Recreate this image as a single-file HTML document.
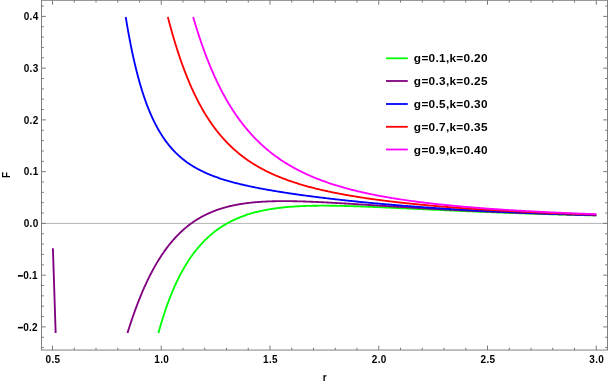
<!DOCTYPE html>
<html><head><meta charset="utf-8"><title>F vs r</title>
<style>
html,body{margin:0;padding:0;background:#fff;}
body{width:608px;height:384px;overflow:hidden;font-family:"Liberation Sans",sans-serif;}
svg{display:block;}
text{font-family:"Liberation Sans",sans-serif;font-weight:bold;fill:#000;}
</style></head><body>
<svg width="608" height="384" viewBox="0 0 608 384">
<rect x="0" y="0" width="608" height="384" fill="#fff"/>
<line x1="41.5" y1="223.4" x2="607.5" y2="223.4" stroke="#b3b3b3" stroke-width="1"/>
<path d="M158.44,333.00 L158.75,331.88 L158.97,331.10 L159.18,330.32 L159.40,329.54 L159.73,328.39 L160.05,327.25 L160.38,326.12 L160.71,325.01 L161.03,323.90 L161.36,322.81 L161.69,321.73 L162.01,320.66 L162.34,319.60 L162.66,318.55 L162.99,317.51 L163.32,316.48 L163.64,315.46 L163.97,314.46 L164.30,313.46 L164.62,312.47 L164.95,311.49 L165.27,310.52 L165.60,309.57 L165.93,308.62 L166.25,307.68 L166.58,306.75 L166.91,305.82 L167.23,304.91 L167.56,304.01 L167.88,303.11 L168.21,302.23 L168.54,301.35 L168.86,300.48 L169.19,299.62 L169.51,298.77 L169.84,297.92 L170.17,297.09 L170.49,296.26 L170.82,295.44 L171.15,294.63 L171.47,293.82 L171.80,293.03 L172.12,292.24 L172.45,291.45 L172.78,290.68 L173.10,289.91 L173.43,289.15 L173.76,288.40 L174.08,287.65 L174.41,286.91 L174.74,286.18 L175.17,285.22 L175.61,284.26 L176.04,283.32 L176.48,282.39 L176.91,281.47 L177.35,280.56 L177.78,279.66 L178.22,278.78 L178.65,277.90 L179.08,277.04 L179.52,276.18 L179.95,275.34 L180.39,274.50 L180.82,273.68 L181.26,272.87 L181.69,272.06 L182.13,271.27 L182.56,270.48 L183.00,269.70 L183.43,268.94 L183.87,268.18 L184.30,267.43 L184.74,266.69 L185.17,265.96 L185.61,265.23 L186.04,264.52 L186.48,263.81 L186.91,263.12 L187.35,262.43 L187.78,261.74 L188.22,261.07 L188.76,260.24 L189.31,259.42 L189.85,258.61 L190.39,257.81 L190.94,257.03 L191.48,256.26 L192.03,255.49 L192.57,254.74 L193.11,254.00 L193.66,253.27 L194.20,252.55 L194.74,251.84 L195.29,251.14 L195.83,250.45 L196.38,249.77 L196.92,249.10 L197.46,248.44 L198.01,247.79 L198.55,247.15 L199.09,246.51 L199.64,245.89 L200.18,245.27 L200.73,244.66 L201.27,244.07 L201.81,243.48 L202.47,242.78 L203.12,242.09 L203.77,241.42 L204.42,240.75 L205.08,240.10 L205.73,239.46 L206.38,238.83 L207.03,238.21 L207.69,237.60 L208.34,237.00 L208.99,236.41 L209.64,235.83 L210.30,235.26 L210.95,234.70 L211.60,234.15 L212.25,233.61 L212.91,233.07 L213.56,232.55 L214.21,232.03 L214.86,231.53 L215.52,231.03 L216.17,230.54 L216.82,230.06 L217.47,229.58 L218.13,229.12 L218.89,228.58 L219.65,228.06 L220.41,227.54 L221.17,227.04 L221.93,226.55 L222.69,226.06 L223.46,225.59 L224.22,225.12 L224.98,224.67 L225.74,224.22 L226.50,223.78 L227.26,223.35 L228.02,222.93 L228.78,222.52 L229.55,222.11 L230.31,221.71 L231.07,221.32 L231.83,220.94 L232.59,220.57 L233.35,220.20 L234.11,219.84 L234.87,219.49 L235.64,219.14 L236.40,218.81 L237.16,218.47 L237.92,218.15 L238.68,217.83 L239.44,217.52 L240.20,217.21 L240.96,216.92 L241.73,216.62 L242.49,216.34 L243.25,216.05 L244.01,215.78 L244.77,215.51 L245.53,215.25 L246.29,214.99 L247.05,214.73 L247.82,214.49 L248.69,214.21 L249.56,213.94 L250.43,213.67 L251.30,213.42 L252.17,213.17 L253.04,212.92 L253.91,212.68 L254.78,212.45 L255.64,212.22 L256.51,212.00 L257.38,211.78 L258.25,211.57 L259.12,211.37 L260.00,211.17 L260.87,210.97 L261.74,210.78 L262.61,210.60 L263.48,210.42 L264.35,210.25 L265.22,210.07 L266.09,209.91 L266.95,209.75 L267.82,209.59 L268.69,209.44 L269.56,209.29 L270.44,209.14 L271.31,209.00 L272.18,208.87 L273.05,208.74 L273.91,208.61 L274.78,208.48 L275.65,208.36 L276.52,208.24 L277.39,208.13 L278.26,208.02 L279.13,207.91 L280.00,207.81 L280.88,207.71 L281.75,207.61 L282.62,207.51 L283.48,207.42 L284.35,207.33 L285.22,207.25 L286.09,207.17 L286.96,207.09 L287.83,207.01 L288.70,206.94 L289.57,206.87 L290.44,206.80 L291.31,206.73 L292.18,206.67 L293.05,206.60 L293.92,206.55 L294.79,206.49 L295.66,206.44 L296.53,206.38 L297.40,206.33 L298.27,206.29 L299.14,206.24 L300.01,206.20 L300.88,206.16 L301.75,206.12 L302.62,206.08 L303.50,206.04 L304.37,206.01 L305.24,205.98 L306.11,205.95 L306.98,205.92 L307.85,205.89 L308.71,205.87 L309.58,205.85 L310.45,205.83 L311.32,205.81 L312.19,205.79 L313.06,205.77 L313.94,205.76 L314.81,205.74 L315.68,205.73 L316.55,205.72 L317.42,205.71 L318.28,205.70 L319.15,205.69 L320.02,205.69 L320.89,205.68 L321.76,205.68 L322.63,205.68 L323.50,205.68 L324.38,205.68 L325.25,205.68 L326.12,205.68 L326.99,205.69 L327.86,205.69 L328.73,205.70 L329.60,205.70 L330.47,205.71 L331.33,205.72 L332.20,205.73 L333.07,205.74 L333.94,205.75 L334.81,205.77 L335.69,205.78 L336.56,205.79 L337.43,205.81 L338.30,205.82 L339.17,205.84 L340.04,205.86 L340.91,205.88 L341.78,205.90 L342.65,205.92 L343.52,205.94 L344.38,205.96 L345.25,205.98 L346.12,206.00 L347.00,206.02 L347.87,206.05 L348.74,206.07 L349.61,206.10 L350.48,206.12 L351.35,206.15 L352.22,206.17 L353.09,206.20 L353.96,206.23 L354.83,206.26 L355.70,206.28 L356.57,206.31 L357.44,206.34 L358.31,206.37 L359.18,206.40 L360.05,206.43 L360.92,206.46 L361.79,206.50 L362.66,206.53 L363.53,206.56 L364.40,206.59 L365.27,206.63 L366.14,206.66 L367.01,206.69 L367.88,206.73 L368.75,206.76 L369.62,206.80 L370.49,206.83 L371.36,206.87 L372.23,206.90 L373.10,206.94 L373.97,206.97 L374.84,207.01 L375.71,207.05 L376.58,207.08 L377.45,207.12 L378.32,207.16 L379.19,207.20 L380.06,207.23 L380.92,207.27 L381.79,207.31 L382.66,207.35 L383.53,207.39 L384.40,207.43 L385.27,207.47 L386.14,207.50 L387.01,207.54 L387.88,207.58 L388.75,207.62 L389.62,207.66 L390.49,207.70 L391.36,207.74 L392.23,207.78 L393.10,207.82 L393.97,207.86 L394.84,207.90 L395.71,207.94 L396.58,207.98 L397.45,208.02 L398.32,208.06 L399.19,208.11 L400.06,208.15 L400.93,208.19 L401.80,208.23 L402.67,208.27 L403.54,208.31 L404.41,208.35 L405.28,208.39 L406.15,208.43 L407.02,208.47 L407.89,208.52 L408.76,208.56 L409.63,208.60 L410.50,208.64 L411.38,208.68 L412.25,208.72 L413.12,208.76 L413.98,208.80 L414.85,208.85 L415.72,208.89 L416.59,208.93 L417.46,208.97 L418.33,209.01 L419.20,209.05 L420.07,209.09 L420.94,209.13 L421.81,209.18 L422.69,209.22 L423.56,209.26 L424.43,209.30 L425.30,209.34 L426.17,209.38 L427.03,209.42 L427.90,209.46 L428.77,209.50 L429.64,209.55 L430.51,209.59 L431.38,209.63 L432.25,209.67 L433.12,209.71 L434.00,209.75 L434.87,209.79 L435.74,209.83 L436.61,209.87 L437.48,209.91 L438.35,209.95 L439.22,209.99 L440.08,210.03 L440.95,210.07 L441.82,210.11 L442.69,210.15 L443.56,210.19 L444.44,210.23 L445.31,210.27 L446.18,210.31 L447.05,210.35 L447.92,210.39 L448.79,210.43 L449.66,210.47 L450.53,210.51 L451.40,210.55 L452.27,210.58 L453.13,210.62 L454.00,210.66 L454.88,210.70 L455.75,210.74 L456.62,210.78 L457.49,210.82 L458.36,210.85 L459.23,210.89 L460.10,210.93 L460.97,210.97 L461.84,211.01 L462.71,211.04 L463.58,211.08 L464.45,211.12 L465.32,211.16 L466.19,211.20 L467.06,211.23 L467.93,211.27 L468.80,211.31 L469.67,211.34 L470.54,211.38 L471.41,211.42 L472.28,211.45 L473.15,211.49 L474.02,211.53 L474.89,211.56 L475.76,211.60 L476.63,211.63 L477.50,211.67 L478.37,211.71 L479.24,211.74 L480.11,211.78 L480.98,211.81 L481.85,211.85 L482.72,211.88 L483.59,211.92 L484.46,211.95 L485.33,211.99 L486.20,212.02 L487.07,212.06 L487.94,212.09 L488.81,212.13 L489.68,212.16 L490.55,212.20 L491.42,212.23 L492.28,212.26 L493.15,212.30 L494.02,212.33 L494.89,212.36 L495.76,212.40 L496.63,212.43 L497.50,212.46 L498.37,212.50 L499.24,212.53 L500.11,212.56 L500.98,212.60 L501.85,212.63 L502.72,212.66 L503.59,212.69 L504.46,212.73 L505.33,212.76 L506.20,212.79 L507.07,212.82 L507.94,212.85 L508.81,212.88 L509.69,212.92 L510.56,212.95 L511.43,212.98 L512.30,213.01 L513.17,213.04 L514.04,213.07 L514.91,213.10 L515.78,213.13 L516.65,213.16 L517.52,213.19 L518.38,213.22 L519.26,213.25 L520.12,213.28 L521.00,213.31 L521.87,213.34 L522.73,213.37 L523.61,213.40 L524.47,213.43 L525.35,213.46 L526.21,213.49 L527.09,213.52 L527.95,213.55 L528.83,213.58 L529.69,213.61 L530.57,213.64 L531.43,213.66 L532.31,213.69 L533.17,213.72 L534.05,213.75 L534.91,213.78 L535.78,213.80 L536.65,213.83 L537.52,213.86 L538.39,213.89 L539.26,213.91 L540.13,213.94 L541.00,213.97 L541.88,214.00 L542.75,214.02 L543.62,214.05 L544.49,214.08 L545.36,214.10 L546.23,214.13 L547.10,214.16 L547.97,214.18 L548.84,214.21 L549.70,214.23 L550.58,214.26 L551.44,214.29 L552.32,214.31 L553.18,214.34 L554.06,214.36 L554.92,214.39 L555.80,214.41 L556.66,214.44 L557.54,214.46 L558.40,214.49 L559.28,214.51 L560.14,214.54 L561.02,214.56 L561.88,214.59 L562.75,214.61 L563.62,214.64 L564.50,214.66 L565.37,214.68 L566.24,214.71 L567.11,214.73 L567.98,214.76 L568.85,214.78 L569.72,214.80 L570.59,214.83 L571.46,214.85 L572.33,214.87 L573.20,214.90 L574.07,214.92 L574.94,214.94 L575.81,214.97 L576.68,214.99 L577.55,215.01 L578.42,215.03 L579.29,215.06 L580.16,215.08 L581.03,215.10 L581.89,215.12 L582.76,215.14 L583.63,215.17 L584.50,215.19 L585.38,215.21 L586.25,215.23 L587.12,215.25 L587.99,215.27 L588.86,215.30 L589.73,215.32 L590.60,215.34 L591.47,215.36 L592.34,215.38 L593.21,215.40 L594.08,215.42 L594.95,215.44 L595.82,215.46 L596.25,215.47" fill="none" stroke="#00ff00" stroke-width="1.85" stroke-linejoin="round" stroke-linecap="butt"/>
<path d="M127.50,333.00 L127.75,332.18 L128.08,331.14 L128.41,330.10 L128.73,329.07 L129.06,328.05 L129.39,327.04 L129.71,326.03 L130.04,325.03 L130.37,324.03 L130.69,323.04 L131.02,322.06 L131.34,321.09 L131.67,320.12 L132.00,319.16 L132.32,318.20 L132.65,317.26 L132.97,316.31 L133.30,315.38 L133.63,314.45 L133.95,313.53 L134.28,312.61 L134.61,311.70 L134.93,310.80 L135.26,309.90 L135.59,309.01 L135.91,308.13 L136.24,307.25 L136.56,306.38 L136.89,305.52 L137.22,304.66 L137.54,303.80 L137.87,302.95 L138.19,302.11 L138.52,301.28 L138.85,300.45 L139.17,299.62 L139.50,298.81 L139.83,298.00 L140.15,297.19 L140.48,296.39 L140.80,295.59 L141.13,294.81 L141.46,294.02 L141.78,293.24 L142.11,292.47 L142.44,291.71 L142.76,290.94 L143.09,290.19 L143.41,289.44 L143.74,288.69 L144.07,287.96 L144.39,287.22 L144.83,286.25 L145.26,285.29 L145.70,284.34 L146.13,283.40 L146.57,282.46 L147.00,281.54 L147.44,280.63 L147.87,279.72 L148.31,278.82 L148.74,277.93 L149.18,277.05 L149.61,276.18 L150.05,275.32 L150.48,274.47 L150.92,273.62 L151.35,272.78 L151.79,271.96 L152.22,271.13 L152.66,270.32 L153.09,269.52 L153.53,268.72 L153.96,267.93 L154.40,267.15 L154.83,266.38 L155.27,265.61 L155.70,264.86 L156.14,264.11 L156.57,263.37 L157.01,262.63 L157.44,261.90 L157.88,261.18 L158.31,260.47 L158.75,259.77 L159.18,259.07 L159.62,258.38 L160.05,257.69 L160.49,257.01 L161.03,256.18 L161.58,255.35 L162.12,254.54 L162.66,253.73 L163.21,252.94 L163.75,252.15 L164.30,251.38 L164.84,250.61 L165.38,249.86 L165.93,249.11 L166.47,248.38 L167.01,247.65 L167.56,246.93 L168.10,246.23 L168.65,245.53 L169.19,244.84 L169.73,244.16 L170.28,243.49 L170.82,242.83 L171.36,242.17 L171.91,241.53 L172.45,240.89 L173.00,240.26 L173.54,239.64 L174.08,239.03 L174.63,238.43 L175.17,237.83 L175.71,237.25 L176.37,236.55 L177.02,235.87 L177.67,235.19 L178.32,234.53 L178.98,233.88 L179.63,233.24 L180.28,232.61 L180.93,231.99 L181.59,231.38 L182.24,230.78 L182.89,230.19 L183.54,229.61 L184.20,229.04 L184.85,228.48 L185.50,227.92 L186.15,227.38 L186.81,226.85 L187.46,226.32 L188.11,225.80 L188.76,225.30 L189.42,224.80 L190.07,224.30 L190.72,223.82 L191.37,223.35 L192.03,222.88 L192.79,222.34 L193.55,221.82 L194.31,221.30 L195.07,220.80 L195.83,220.31 L196.59,219.82 L197.35,219.35 L198.12,218.88 L198.88,218.43 L199.64,217.98 L200.40,217.55 L201.16,217.12 L201.92,216.70 L202.68,216.29 L203.44,215.88 L204.21,215.49 L204.97,215.10 L205.73,214.73 L206.49,214.36 L207.25,213.99 L208.01,213.64 L208.77,213.29 L209.53,212.95 L210.30,212.62 L211.06,212.30 L211.82,211.98 L212.58,211.67 L213.34,211.36 L214.10,211.06 L214.86,210.77 L215.62,210.49 L216.39,210.21 L217.15,209.94 L217.91,209.67 L218.67,209.41 L219.43,209.15 L220.19,208.90 L221.06,208.63 L221.93,208.36 L222.80,208.09 L223.67,207.84 L224.54,207.59 L225.41,207.35 L226.28,207.11 L227.15,206.88 L228.02,206.66 L228.89,206.44 L229.76,206.23 L230.63,206.02 L231.50,205.83 L232.37,205.63 L233.24,205.44 L234.11,205.26 L234.98,205.09 L235.85,204.91 L236.72,204.75 L237.59,204.59 L238.46,204.43 L239.33,204.28 L240.20,204.13 L241.07,203.99 L241.94,203.85 L242.81,203.72 L243.68,203.59 L244.55,203.46 L245.42,203.34 L246.29,203.23 L247.16,203.11 L248.03,203.01 L248.90,202.90 L249.77,202.80 L250.64,202.70 L251.51,202.61 L252.38,202.52 L253.25,202.43 L254.12,202.35 L254.99,202.27 L255.86,202.20 L256.73,202.12 L257.60,202.05 L258.47,201.99 L259.34,201.92 L260.21,201.86 L261.08,201.80 L261.95,201.75 L262.82,201.70 L263.69,201.65 L264.56,201.60 L265.43,201.56 L266.30,201.51 L267.17,201.47 L268.04,201.44 L268.91,201.40 L269.78,201.37 L270.65,201.34 L271.52,201.31 L272.39,201.29 L273.26,201.26 L274.13,201.24 L275.00,201.22 L275.87,201.20 L276.74,201.19 L277.61,201.18 L278.48,201.16 L279.35,201.15 L280.22,201.15 L281.09,201.14 L281.96,201.13 L282.83,201.13 L283.70,201.13 L284.57,201.13 L285.44,201.13 L286.31,201.14 L287.18,201.14 L288.05,201.15 L288.92,201.15 L289.79,201.16 L290.66,201.17 L291.53,201.19 L292.40,201.20 L293.27,201.21 L294.14,201.23 L295.01,201.25 L295.88,201.26 L296.75,201.28 L297.62,201.30 L298.49,201.32 L299.36,201.35 L300.23,201.37 L301.10,201.39 L301.97,201.42 L302.84,201.45 L303.71,201.47 L304.58,201.50 L305.45,201.53 L306.32,201.56 L307.19,201.59 L308.06,201.62 L308.93,201.66 L309.80,201.69 L310.67,201.72 L311.54,201.76 L312.41,201.79 L313.28,201.83 L314.15,201.87 L315.02,201.90 L315.89,201.94 L316.76,201.98 L317.63,202.02 L318.50,202.06 L319.37,202.10 L320.24,202.14 L321.11,202.18 L321.98,202.23 L322.85,202.27 L323.72,202.31 L324.59,202.36 L325.46,202.40 L326.33,202.45 L327.20,202.49 L328.07,202.54 L328.94,202.58 L329.81,202.63 L330.68,202.68 L331.55,202.72 L332.42,202.77 L333.29,202.82 L334.16,202.87 L335.03,202.92 L335.90,202.96 L336.77,203.01 L337.64,203.06 L338.51,203.11 L339.38,203.16 L340.25,203.21 L341.12,203.26 L341.99,203.32 L342.86,203.37 L343.73,203.42 L344.60,203.47 L345.47,203.52 L346.34,203.57 L347.21,203.63 L348.08,203.68 L348.95,203.73 L349.82,203.78 L350.69,203.84 L351.56,203.89 L352.43,203.94 L353.30,204.00 L354.17,204.05 L355.04,204.10 L355.91,204.16 L356.78,204.21 L357.65,204.27 L358.52,204.32 L359.39,204.37 L360.26,204.43 L361.13,204.48 L362.00,204.54 L362.87,204.59 L363.74,204.65 L364.61,204.70 L365.48,204.75 L366.35,204.81 L367.22,204.86 L368.09,204.92 L368.96,204.97 L369.83,205.03 L370.70,205.08 L371.57,205.14 L372.44,205.19 L373.31,205.25 L374.18,205.30 L375.05,205.36 L375.92,205.41 L376.79,205.47 L377.66,205.52 L378.53,205.58 L379.40,205.63 L380.27,205.69 L381.14,205.74 L382.01,205.79 L382.88,205.85 L383.75,205.90 L384.62,205.96 L385.49,206.01 L386.36,206.07 L387.23,206.12 L388.10,206.18 L388.97,206.23 L389.84,206.28 L390.71,206.34 L391.58,206.39 L392.45,206.45 L393.32,206.50 L394.19,206.55 L395.06,206.61 L395.93,206.66 L396.80,206.71 L397.67,206.77 L398.54,206.82 L399.41,206.87 L400.28,206.93 L401.15,206.98 L402.02,207.03 L402.89,207.09 L403.76,207.14 L404.63,207.19 L405.50,207.24 L406.37,207.30 L407.24,207.35 L408.11,207.40 L408.98,207.45 L409.85,207.50 L410.72,207.56 L411.59,207.61 L412.46,207.66 L413.33,207.71 L414.20,207.76 L415.07,207.81 L415.94,207.86 L416.81,207.91 L417.68,207.97 L418.55,208.02 L419.42,208.07 L420.29,208.12 L421.16,208.17 L422.03,208.22 L422.90,208.27 L423.77,208.32 L424.64,208.37 L425.51,208.42 L426.38,208.47 L427.25,208.52 L428.12,208.56 L428.99,208.61 L429.86,208.66 L430.73,208.71 L431.60,208.76 L432.47,208.81 L433.34,208.86 L434.21,208.90 L435.08,208.95 L435.95,209.00 L436.82,209.05 L437.69,209.09 L438.56,209.14 L439.43,209.19 L440.30,209.24 L441.17,209.28 L442.04,209.33 L442.91,209.38 L443.78,209.42 L444.65,209.47 L445.52,209.52 L446.39,209.56 L447.26,209.61 L448.13,209.65 L449.00,209.70 L449.87,209.74 L450.74,209.79 L451.61,209.83 L452.48,209.88 L453.35,209.92 L454.22,209.97 L455.09,210.01 L455.96,210.06 L456.83,210.10 L457.70,210.14 L458.57,210.19 L459.44,210.23 L460.31,210.28 L461.18,210.32 L462.05,210.36 L462.92,210.41 L463.79,210.45 L464.66,210.49 L465.53,210.53 L466.40,210.58 L467.27,210.62 L468.14,210.66 L469.01,210.70 L469.88,210.74 L470.75,210.79 L471.62,210.83 L472.49,210.87 L473.36,210.91 L474.23,210.95 L475.10,210.99 L475.97,211.03 L476.84,211.07 L477.71,211.11 L478.58,211.15 L479.45,211.19 L480.32,211.23 L481.19,211.27 L482.06,211.31 L482.93,211.35 L483.80,211.39 L484.67,211.43 L485.54,211.47 L486.41,211.51 L487.28,211.55 L488.15,211.58 L489.02,211.62 L489.89,211.66 L490.76,211.70 L491.63,211.74 L492.50,211.77 L493.37,211.81 L494.24,211.85 L495.11,211.89 L495.98,211.92 L496.85,211.96 L497.72,212.00 L498.59,212.03 L499.46,212.07 L500.33,212.11 L501.20,212.14 L502.07,212.18 L502.94,212.22 L503.81,212.25 L504.68,212.29 L505.55,212.32 L506.42,212.36 L507.29,212.39 L508.16,212.43 L509.03,212.46 L509.90,212.50 L510.77,212.53 L511.64,212.57 L512.51,212.60 L513.38,212.64 L514.25,212.67 L515.12,212.70 L515.99,212.74 L516.86,212.77 L517.73,212.80 L518.60,212.84 L519.47,212.87 L520.34,212.90 L521.21,212.94 L522.08,212.97 L522.95,213.00 L523.82,213.04 L524.69,213.07 L525.56,213.10 L526.43,213.13 L527.30,213.16 L528.17,213.20 L529.04,213.23 L529.91,213.26 L530.78,213.29 L531.65,213.32 L532.52,213.35 L533.39,213.38 L534.26,213.42 L535.13,213.45 L536.00,213.48 L536.87,213.51 L537.74,213.54 L538.61,213.57 L539.48,213.60 L540.35,213.63 L541.22,213.66 L542.09,213.69 L542.96,213.72 L543.83,213.75 L544.70,213.78 L545.57,213.81 L546.44,213.84 L547.31,213.86 L548.18,213.89 L549.05,213.92 L549.92,213.95 L550.79,213.98 L551.66,214.01 L552.53,214.04 L553.40,214.06 L554.27,214.09 L555.14,214.12 L556.01,214.15 L556.88,214.18 L557.75,214.20 L558.62,214.23 L559.49,214.26 L560.36,214.28 L561.23,214.31 L562.10,214.34 L562.97,214.37 L563.84,214.39 L564.71,214.42 L565.58,214.45 L566.45,214.47 L567.32,214.50 L568.19,214.52 L569.06,214.55 L569.93,214.58 L570.80,214.60 L571.67,214.63 L572.54,214.65 L573.41,214.68 L574.28,214.70 L575.15,214.73 L576.02,214.75 L576.89,214.78 L577.76,214.80 L578.63,214.83 L579.50,214.85 L580.37,214.88 L581.24,214.90 L582.11,214.93 L582.98,214.95 L583.85,214.98 L584.72,215.00 L585.59,215.02 L586.46,215.05 L587.33,215.07 L588.20,215.10 L589.07,215.12 L589.94,215.14 L590.81,215.17 L591.68,215.19 L592.55,215.21 L593.42,215.24 L594.29,215.26 L595.16,215.28 L596.03,215.30 L596.25,215.31" fill="none" stroke="#800080" stroke-width="1.85" stroke-linejoin="round" stroke-linecap="butt"/>
<path d="M125.74,17.00 L125.91,18.03 L126.12,19.37 L126.34,20.69 L126.56,22.00 L126.78,23.30 L126.99,24.59 L127.21,25.86 L127.43,27.13 L127.65,28.38 L127.86,29.62 L128.08,30.85 L128.30,32.06 L128.52,33.27 L128.73,34.47 L128.95,35.65 L129.17,36.82 L129.39,37.99 L129.60,39.14 L129.82,40.28 L130.04,41.41 L130.26,42.53 L130.47,43.64 L130.69,44.74 L130.91,45.84 L131.13,46.92 L131.34,47.99 L131.56,49.05 L131.78,50.10 L132.00,51.14 L132.21,52.18 L132.43,53.20 L132.65,54.22 L132.87,55.22 L133.08,56.22 L133.30,57.21 L133.52,58.19 L133.74,59.16 L133.95,60.12 L134.17,61.08 L134.39,62.02 L134.61,62.96 L134.82,63.89 L135.04,64.81 L135.26,65.72 L135.48,66.63 L135.69,67.52 L135.91,68.41 L136.13,69.29 L136.35,70.17 L136.56,71.03 L136.78,71.89 L137.00,72.74 L137.22,73.59 L137.43,74.42 L137.65,75.25 L137.87,76.07 L138.09,76.89 L138.30,77.70 L138.52,78.50 L138.74,79.29 L138.96,80.08 L139.17,80.86 L139.39,81.63 L139.72,82.78 L140.04,83.92 L140.37,85.03 L140.70,86.14 L141.02,87.23 L141.35,88.31 L141.67,89.37 L142.00,90.42 L142.33,91.46 L142.65,92.49 L142.98,93.50 L143.31,94.50 L143.63,95.48 L143.96,96.46 L144.28,97.42 L144.61,98.37 L144.94,99.31 L145.26,100.24 L145.59,101.15 L145.92,102.06 L146.24,102.95 L146.57,103.83 L146.89,104.71 L147.22,105.57 L147.55,106.42 L147.87,107.26 L148.20,108.09 L148.53,108.91 L148.85,109.72 L149.18,110.52 L149.50,111.31 L149.83,112.10 L150.16,112.87 L150.48,113.63 L150.81,114.39 L151.14,115.13 L151.46,115.87 L151.90,116.84 L152.33,117.79 L152.77,118.73 L153.20,119.65 L153.64,120.56 L154.07,121.46 L154.51,122.34 L154.94,123.21 L155.38,124.06 L155.81,124.90 L156.25,125.73 L156.68,126.55 L157.12,127.35 L157.55,128.15 L157.99,128.93 L158.42,129.69 L158.86,130.45 L159.29,131.20 L159.73,131.93 L160.16,132.65 L160.60,133.37 L161.03,134.07 L161.47,134.76 L161.90,135.44 L162.34,136.11 L162.88,136.94 L163.43,137.75 L163.97,138.54 L164.51,139.33 L165.06,140.09 L165.60,140.85 L166.14,141.59 L166.69,142.32 L167.23,143.03 L167.78,143.73 L168.32,144.42 L168.86,145.10 L169.41,145.77 L169.95,146.42 L170.49,147.06 L171.04,147.70 L171.58,148.32 L172.12,148.93 L172.67,149.53 L173.21,150.12 L173.87,150.81 L174.52,151.50 L175.17,152.16 L175.82,152.82 L176.48,153.46 L177.13,154.09 L177.78,154.70 L178.43,155.31 L179.08,155.90 L179.74,156.48 L180.39,157.05 L181.04,157.61 L181.69,158.16 L182.35,158.70 L183.00,159.23 L183.65,159.75 L184.30,160.26 L184.96,160.76 L185.61,161.25 L186.26,161.73 L186.91,162.21 L187.57,162.67 L188.33,163.20 L189.09,163.72 L189.85,164.23 L190.61,164.73 L191.37,165.22 L192.13,165.70 L192.90,166.17 L193.66,166.64 L194.42,167.09 L195.18,167.53 L195.94,167.97 L196.70,168.39 L197.46,168.81 L198.22,169.22 L198.99,169.63 L199.75,170.02 L200.51,170.41 L201.27,170.79 L202.03,171.17 L202.79,171.54 L203.55,171.90 L204.31,172.25 L205.08,172.60 L205.84,172.95 L206.60,173.28 L207.36,173.62 L208.12,173.94 L208.88,174.26 L209.64,174.58 L210.41,174.89 L211.17,175.19 L211.93,175.49 L212.69,175.79 L213.45,176.08 L214.21,176.37 L214.97,176.65 L215.73,176.93 L216.50,177.20 L217.26,177.47 L218.02,177.74 L218.78,178.00 L219.54,178.26 L220.30,178.51 L221.06,178.77 L221.82,179.01 L222.69,179.29 L223.56,179.57 L224.43,179.84 L225.30,180.10 L226.17,180.37 L227.04,180.62 L227.91,180.88 L228.78,181.13 L229.65,181.38 L230.52,181.62 L231.39,181.86 L232.26,182.10 L233.13,182.33 L234.00,182.57 L234.87,182.79 L235.74,183.02 L236.61,183.24 L237.48,183.46 L238.35,183.68 L239.22,183.89 L240.09,184.10 L240.96,184.31 L241.83,184.52 L242.70,184.72 L243.57,184.93 L244.44,185.12 L245.31,185.32 L246.18,185.52 L247.05,185.71 L247.92,185.90 L248.79,186.09 L249.66,186.28 L250.53,186.46 L251.40,186.65 L252.27,186.83 L253.14,187.01 L254.01,187.19 L254.88,187.36 L255.75,187.54 L256.62,187.71 L257.49,187.88 L258.36,188.05 L259.23,188.22 L260.10,188.39 L260.97,188.55 L261.84,188.71 L262.71,188.88 L263.58,189.04 L264.45,189.20 L265.32,189.36 L266.19,189.51 L267.06,189.67 L267.93,189.82 L268.80,189.98 L269.67,190.13 L270.54,190.28 L271.41,190.43 L272.28,190.58 L273.15,190.73 L274.02,190.87 L274.89,191.02 L275.76,191.16 L276.63,191.31 L277.50,191.45 L278.37,191.59 L279.24,191.73 L280.11,191.87 L280.98,192.01 L281.85,192.15 L282.72,192.28 L283.59,192.42 L284.46,192.56 L285.33,192.69 L286.20,192.82 L287.07,192.96 L287.94,193.09 L288.81,193.22 L289.68,193.35 L290.55,193.48 L291.42,193.61 L292.29,193.73 L293.16,193.86 L294.03,193.99 L294.90,194.11 L295.77,194.24 L296.64,194.36 L297.51,194.48 L298.38,194.61 L299.25,194.73 L300.12,194.85 L300.99,194.97 L301.86,195.09 L302.73,195.21 L303.60,195.33 L304.47,195.45 L305.34,195.56 L306.21,195.68 L307.08,195.80 L307.95,195.91 L308.82,196.03 L309.69,196.14 L310.56,196.25 L311.43,196.37 L312.30,196.48 L313.17,196.59 L314.04,196.70 L314.91,196.81 L315.78,196.92 L316.65,197.03 L317.52,197.14 L318.39,197.25 L319.26,197.36 L320.13,197.47 L321.00,197.57 L321.87,197.68 L322.74,197.79 L323.61,197.89 L324.48,198.00 L325.35,198.10 L326.22,198.20 L327.09,198.31 L327.96,198.41 L328.83,198.51 L329.70,198.61 L330.57,198.72 L331.44,198.82 L332.31,198.92 L333.18,199.02 L334.05,199.12 L334.92,199.21 L335.79,199.31 L336.66,199.41 L337.53,199.51 L338.40,199.61 L339.27,199.70 L340.14,199.80 L341.01,199.89 L341.88,199.99 L342.75,200.08 L343.62,200.18 L344.49,200.27 L345.36,200.37 L346.23,200.46 L347.10,200.55 L347.97,200.64 L348.84,200.74 L349.71,200.83 L350.58,200.92 L351.45,201.01 L352.32,201.10 L353.19,201.19 L354.06,201.28 L354.93,201.37 L355.80,201.46 L356.67,201.54 L357.54,201.63 L358.41,201.72 L359.28,201.80 L360.15,201.89 L361.02,201.98 L361.89,202.06 L362.76,202.15 L363.63,202.23 L364.50,202.32 L365.37,202.40 L366.24,202.49 L367.11,202.57 L367.98,202.65 L368.85,202.73 L369.72,202.82 L370.59,202.90 L371.46,202.98 L372.33,203.06 L373.20,203.14 L374.07,203.22 L374.94,203.30 L375.81,203.38 L376.68,203.46 L377.55,203.54 L378.42,203.62 L379.29,203.70 L380.16,203.77 L381.03,203.85 L381.90,203.93 L382.77,204.00 L383.64,204.08 L384.51,204.16 L385.38,204.23 L386.25,204.31 L387.12,204.38 L387.99,204.46 L388.86,204.53 L389.73,204.61 L390.60,204.68 L391.47,204.75 L392.34,204.82 L393.21,204.90 L394.08,204.97 L394.95,205.04 L395.82,205.11 L396.69,205.18 L397.56,205.26 L398.43,205.33 L399.30,205.40 L400.17,205.47 L401.04,205.54 L401.91,205.60 L402.78,205.67 L403.65,205.74 L404.52,205.81 L405.39,205.88 L406.26,205.95 L407.13,206.01 L408.00,206.08 L408.87,206.15 L409.74,206.21 L410.61,206.28 L411.48,206.35 L412.35,206.41 L413.22,206.48 L414.09,206.54 L414.96,206.61 L415.83,206.67 L416.70,206.73 L417.57,206.80 L418.44,206.86 L419.31,206.92 L420.18,206.99 L421.05,207.05 L421.92,207.11 L422.79,207.17 L423.66,207.23 L424.53,207.30 L425.40,207.36 L426.27,207.42 L427.14,207.48 L428.01,207.54 L428.88,207.60 L429.75,207.66 L430.62,207.72 L431.49,207.78 L432.36,207.83 L433.23,207.89 L434.10,207.95 L434.97,208.01 L435.84,208.07 L436.71,208.12 L437.58,208.18 L438.45,208.24 L439.32,208.29 L440.19,208.35 L441.06,208.41 L441.93,208.46 L442.80,208.52 L443.67,208.57 L444.54,208.63 L445.41,208.68 L446.28,208.74 L447.15,208.79 L448.02,208.84 L448.89,208.90 L449.76,208.95 L450.63,209.00 L451.50,209.06 L452.37,209.11 L453.24,209.16 L454.11,209.21 L454.98,209.27 L455.85,209.32 L456.72,209.37 L457.59,209.42 L458.46,209.47 L459.33,209.52 L460.20,209.57 L461.07,209.62 L461.94,209.67 L462.81,209.72 L463.68,209.77 L464.55,209.82 L465.42,209.87 L466.29,209.92 L467.16,209.97 L468.03,210.01 L468.90,210.06 L469.77,210.11 L470.64,210.16 L471.51,210.20 L472.38,210.25 L473.25,210.30 L474.12,210.34 L474.99,210.39 L475.86,210.44 L476.73,210.48 L477.60,210.53 L478.47,210.57 L479.34,210.62 L480.21,210.66 L481.08,210.71 L481.95,210.75 L482.82,210.80 L483.69,210.84 L484.56,210.89 L485.43,210.93 L486.30,210.97 L487.17,211.02 L488.04,211.06 L488.91,211.10 L489.78,211.14 L490.65,211.19 L491.52,211.23 L492.39,211.27 L493.26,211.31 L494.13,211.35 L495.00,211.40 L495.87,211.44 L496.74,211.48 L497.61,211.52 L498.48,211.56 L499.35,211.60 L500.22,211.64 L501.09,211.68 L501.96,211.72 L502.83,211.76 L503.70,211.80 L504.57,211.84 L505.44,211.88 L506.31,211.91 L507.18,211.95 L508.05,211.99 L508.92,212.03 L509.79,212.07 L510.66,212.11 L511.53,212.14 L512.40,212.18 L513.27,212.22 L514.14,212.25 L515.01,212.29 L515.88,212.33 L516.75,212.36 L517.62,212.40 L518.49,212.44 L519.36,212.47 L520.23,212.51 L521.10,212.54 L521.97,212.58 L522.84,212.62 L523.71,212.65 L524.58,212.69 L525.45,212.72 L526.32,212.75 L527.19,212.79 L528.06,212.82 L528.93,212.86 L529.80,212.89 L530.67,212.92 L531.54,212.96 L532.41,212.99 L533.28,213.02 L534.15,213.06 L535.02,213.09 L535.89,213.12 L536.76,213.16 L537.63,213.19 L538.50,213.22 L539.37,213.25 L540.24,213.28 L541.11,213.32 L541.98,213.35 L542.85,213.38 L543.72,213.41 L544.59,213.44 L545.46,213.47 L546.33,213.50 L547.20,213.53 L548.07,213.56 L548.94,213.59 L549.81,213.62 L550.68,213.65 L551.55,213.68 L552.42,213.71 L553.29,213.74 L554.16,213.77 L555.03,213.80 L555.90,213.83 L556.77,213.86 L557.64,213.89 L558.51,213.92 L559.38,213.95 L560.25,213.97 L561.12,214.00 L561.99,214.03 L562.86,214.06 L563.73,214.09 L564.60,214.11 L565.47,214.14 L566.34,214.17 L567.21,214.20 L568.08,214.22 L568.95,214.25 L569.82,214.28 L570.69,214.30 L571.56,214.33 L572.43,214.36 L573.30,214.38 L574.17,214.41 L575.04,214.44 L575.91,214.46 L576.78,214.49 L577.65,214.51 L578.52,214.54 L579.39,214.56 L580.26,214.59 L581.13,214.61 L582.00,214.64 L582.87,214.66 L583.74,214.69 L584.61,214.71 L585.48,214.74 L586.35,214.76 L587.22,214.79 L588.09,214.81 L588.96,214.83 L589.83,214.86 L590.70,214.88 L591.57,214.90 L592.44,214.93 L593.31,214.95 L594.18,214.97 L595.05,215.00 L595.92,215.02 L596.25,215.03" fill="none" stroke="#0000ff" stroke-width="1.85" stroke-linejoin="round" stroke-linecap="butt"/>
<path d="M167.83,17.00 L168.10,18.04 L168.32,18.87 L168.54,19.71 L168.75,20.53 L168.97,21.36 L169.19,22.18 L169.41,22.99 L169.62,23.80 L169.84,24.61 L170.06,25.41 L170.28,26.21 L170.49,27.01 L170.71,27.80 L170.93,28.59 L171.15,29.37 L171.36,30.15 L171.58,30.92 L171.80,31.69 L172.12,32.84 L172.45,33.98 L172.78,35.12 L173.10,36.24 L173.43,37.35 L173.76,38.46 L174.08,39.56 L174.41,40.65 L174.74,41.73 L175.06,42.80 L175.39,43.87 L175.71,44.93 L176.04,45.98 L176.37,47.02 L176.69,48.05 L177.02,49.08 L177.35,50.09 L177.67,51.10 L178.00,52.11 L178.32,53.10 L178.65,54.09 L178.98,55.07 L179.30,56.04 L179.63,57.01 L179.95,57.96 L180.28,58.91 L180.61,59.86 L180.93,60.79 L181.26,61.72 L181.59,62.64 L181.91,63.56 L182.24,64.47 L182.56,65.37 L182.89,66.26 L183.22,67.15 L183.54,68.03 L183.87,68.91 L184.20,69.77 L184.52,70.64 L184.85,71.49 L185.17,72.34 L185.50,73.18 L185.83,74.02 L186.15,74.85 L186.48,75.67 L186.81,76.49 L187.13,77.30 L187.46,78.10 L187.78,78.90 L188.11,79.69 L188.44,80.48 L188.76,81.26 L189.09,82.03 L189.42,82.80 L189.74,83.57 L190.07,84.33 L190.39,85.08 L190.72,85.82 L191.05,86.56 L191.37,87.30 L191.81,88.27 L192.24,89.23 L192.68,90.19 L193.11,91.13 L193.55,92.07 L193.98,92.99 L194.42,93.91 L194.85,94.81 L195.29,95.71 L195.72,96.60 L196.16,97.48 L196.59,98.35 L197.03,99.21 L197.46,100.07 L197.90,100.91 L198.33,101.75 L198.77,102.58 L199.20,103.40 L199.64,104.22 L200.07,105.02 L200.51,105.82 L200.94,106.61 L201.38,107.39 L201.81,108.17 L202.25,108.94 L202.68,109.70 L203.12,110.45 L203.55,111.19 L203.99,111.93 L204.42,112.66 L204.86,113.39 L205.29,114.11 L205.73,114.82 L206.16,115.52 L206.60,116.22 L207.03,116.91 L207.47,117.59 L207.90,118.27 L208.45,119.10 L208.99,119.93 L209.53,120.75 L210.08,121.56 L210.62,122.36 L211.17,123.15 L211.71,123.92 L212.25,124.70 L212.80,125.46 L213.34,126.21 L213.88,126.95 L214.43,127.69 L214.97,128.42 L215.52,129.14 L216.06,129.85 L216.60,130.55 L217.15,131.24 L217.69,131.93 L218.24,132.61 L218.78,133.28 L219.32,133.94 L219.87,134.59 L220.41,135.24 L220.95,135.88 L221.50,136.52 L222.04,137.14 L222.59,137.76 L223.13,138.37 L223.67,138.98 L224.22,139.58 L224.76,140.17 L225.41,140.87 L226.06,141.56 L226.72,142.25 L227.37,142.92 L228.02,143.58 L228.68,144.24 L229.33,144.89 L229.98,145.53 L230.63,146.16 L231.29,146.78 L231.94,147.40 L232.59,148.00 L233.24,148.60 L233.90,149.19 L234.55,149.78 L235.20,150.35 L235.85,150.92 L236.51,151.48 L237.16,152.04 L237.81,152.59 L238.46,153.13 L239.12,153.66 L239.77,154.19 L240.42,154.71 L241.07,155.22 L241.73,155.73 L242.38,156.23 L243.03,156.73 L243.68,157.22 L244.34,157.70 L244.99,158.18 L245.64,158.65 L246.29,159.12 L247.05,159.66 L247.82,160.19 L248.58,160.71 L249.34,161.22 L250.10,161.73 L250.86,162.23 L251.62,162.73 L252.38,163.21 L253.14,163.69 L253.91,164.17 L254.67,164.64 L255.43,165.10 L256.19,165.55 L256.95,166.00 L257.71,166.45 L258.47,166.88 L259.23,167.32 L260.00,167.74 L260.76,168.16 L261.52,168.58 L262.28,168.99 L263.04,169.39 L263.80,169.79 L264.56,170.19 L265.32,170.58 L266.09,170.96 L266.85,171.34 L267.61,171.72 L268.37,172.09 L269.13,172.45 L269.89,172.82 L270.65,173.17 L271.41,173.53 L272.18,173.87 L272.94,174.22 L273.70,174.56 L274.46,174.89 L275.22,175.23 L275.98,175.55 L276.74,175.88 L277.50,176.20 L278.26,176.52 L279.03,176.83 L279.79,177.14 L280.55,177.44 L281.31,177.75 L282.07,178.05 L282.83,178.34 L283.59,178.63 L284.35,178.92 L285.12,179.21 L285.88,179.49 L286.64,179.77 L287.40,180.05 L288.16,180.32 L288.92,180.59 L289.68,180.86 L290.44,181.12 L291.21,181.39 L291.97,181.64 L292.73,181.90 L293.49,182.15 L294.25,182.41 L295.01,182.65 L295.88,182.93 L296.75,183.21 L297.62,183.49 L298.49,183.76 L299.36,184.02 L300.23,184.29 L301.10,184.55 L301.97,184.81 L302.84,185.06 L303.71,185.32 L304.58,185.57 L305.45,185.81 L306.32,186.06 L307.19,186.30 L308.06,186.54 L308.93,186.78 L309.80,187.01 L310.67,187.24 L311.54,187.47 L312.41,187.70 L313.28,187.92 L314.15,188.14 L315.02,188.36 L315.89,188.58 L316.76,188.79 L317.63,189.01 L318.50,189.22 L319.37,189.42 L320.24,189.63 L321.11,189.84 L321.98,190.04 L322.85,190.24 L323.72,190.44 L324.59,190.63 L325.46,190.83 L326.33,191.02 L327.20,191.21 L328.07,191.40 L328.94,191.58 L329.81,191.77 L330.68,191.95 L331.55,192.13 L332.42,192.31 L333.29,192.49 L334.16,192.67 L335.03,192.84 L335.90,193.01 L336.77,193.19 L337.64,193.36 L338.51,193.52 L339.38,193.69 L340.25,193.86 L341.12,194.02 L341.99,194.18 L342.86,194.34 L343.73,194.50 L344.60,194.66 L345.47,194.82 L346.34,194.98 L347.21,195.13 L348.08,195.28 L348.95,195.43 L349.82,195.58 L350.69,195.73 L351.56,195.88 L352.43,196.03 L353.30,196.17 L354.17,196.32 L355.04,196.46 L355.91,196.60 L356.78,196.74 L357.65,196.88 L358.52,197.02 L359.39,197.16 L360.26,197.29 L361.13,197.43 L362.00,197.56 L362.87,197.69 L363.74,197.83 L364.61,197.96 L365.48,198.09 L366.35,198.22 L367.22,198.34 L368.09,198.47 L368.96,198.60 L369.83,198.72 L370.70,198.84 L371.57,198.97 L372.44,199.09 L373.31,199.21 L374.18,199.33 L375.05,199.45 L375.92,199.57 L376.79,199.69 L377.66,199.80 L378.53,199.92 L379.40,200.03 L380.27,200.15 L381.14,200.26 L382.01,200.37 L382.88,200.48 L383.75,200.59 L384.62,200.70 L385.49,200.81 L386.36,200.92 L387.23,201.03 L388.10,201.14 L388.97,201.24 L389.84,201.35 L390.71,201.45 L391.58,201.56 L392.45,201.66 L393.32,201.76 L394.19,201.86 L395.06,201.97 L395.93,202.07 L396.80,202.17 L397.67,202.27 L398.54,202.36 L399.41,202.46 L400.28,202.56 L401.15,202.65 L402.02,202.75 L402.89,202.85 L403.76,202.94 L404.63,203.03 L405.50,203.13 L406.37,203.22 L407.24,203.31 L408.11,203.40 L408.98,203.49 L409.85,203.58 L410.72,203.67 L411.59,203.76 L412.46,203.85 L413.33,203.94 L414.20,204.03 L415.07,204.11 L415.94,204.20 L416.81,204.29 L417.68,204.37 L418.55,204.46 L419.42,204.54 L420.29,204.62 L421.16,204.71 L422.03,204.79 L422.90,204.87 L423.77,204.95 L424.64,205.03 L425.51,205.11 L426.38,205.19 L427.25,205.27 L428.12,205.35 L428.99,205.43 L429.86,205.51 L430.73,205.59 L431.60,205.66 L432.47,205.74 L433.34,205.82 L434.21,205.89 L435.08,205.97 L435.95,206.04 L436.82,206.12 L437.69,206.19 L438.56,206.26 L439.43,206.34 L440.30,206.41 L441.17,206.48 L442.04,206.55 L442.91,206.62 L443.78,206.69 L444.65,206.76 L445.52,206.83 L446.39,206.90 L447.26,206.97 L448.13,207.04 L449.00,207.11 L449.87,207.18 L450.74,207.25 L451.61,207.31 L452.48,207.38 L453.35,207.45 L454.22,207.51 L455.09,207.58 L455.96,207.64 L456.83,207.71 L457.70,207.77 L458.57,207.84 L459.44,207.90 L460.31,207.96 L461.18,208.03 L462.05,208.09 L462.92,208.15 L463.79,208.21 L464.66,208.28 L465.53,208.34 L466.40,208.40 L467.27,208.46 L468.14,208.52 L469.01,208.58 L469.88,208.64 L470.75,208.70 L471.62,208.76 L472.49,208.81 L473.36,208.87 L474.23,208.93 L475.10,208.99 L475.97,209.04 L476.84,209.10 L477.71,209.16 L478.58,209.21 L479.45,209.27 L480.32,209.33 L481.19,209.38 L482.06,209.44 L482.93,209.49 L483.80,209.55 L484.67,209.60 L485.54,209.65 L486.41,209.71 L487.28,209.76 L488.15,209.81 L489.02,209.87 L489.89,209.92 L490.76,209.97 L491.63,210.02 L492.50,210.07 L493.37,210.12 L494.24,210.18 L495.11,210.23 L495.98,210.28 L496.85,210.33 L497.72,210.38 L498.59,210.43 L499.46,210.48 L500.33,210.52 L501.20,210.57 L502.07,210.62 L502.94,210.67 L503.81,210.72 L504.68,210.77 L505.55,210.81 L506.42,210.86 L507.29,210.91 L508.16,210.95 L509.03,211.00 L509.90,211.05 L510.77,211.09 L511.64,211.14 L512.51,211.18 L513.38,211.23 L514.25,211.27 L515.12,211.32 L515.99,211.36 L516.86,211.41 L517.73,211.45 L518.60,211.50 L519.47,211.54 L520.34,211.58 L521.21,211.63 L522.08,211.67 L522.95,211.71 L523.82,211.75 L524.69,211.80 L525.56,211.84 L526.43,211.88 L527.30,211.92 L528.17,211.96 L529.04,212.00 L529.91,212.04 L530.78,212.08 L531.65,212.12 L532.52,212.17 L533.39,212.21 L534.26,212.24 L535.13,212.28 L536.00,212.32 L536.87,212.36 L537.74,212.40 L538.61,212.44 L539.48,212.48 L540.35,212.52 L541.22,212.56 L542.09,212.59 L542.96,212.63 L543.83,212.67 L544.70,212.71 L545.57,212.74 L546.44,212.78 L547.31,212.82 L548.18,212.85 L549.05,212.89 L549.92,212.93 L550.79,212.96 L551.66,213.00 L552.53,213.03 L553.40,213.07 L554.27,213.11 L555.14,213.14 L556.01,213.18 L556.88,213.21 L557.75,213.24 L558.62,213.28 L559.49,213.31 L560.36,213.35 L561.23,213.38 L562.10,213.42 L562.97,213.45 L563.84,213.48 L564.71,213.52 L565.58,213.55 L566.45,213.58 L567.32,213.61 L568.19,213.65 L569.06,213.68 L569.93,213.71 L570.80,213.74 L571.67,213.77 L572.54,213.81 L573.41,213.84 L574.28,213.87 L575.15,213.90 L576.02,213.93 L576.89,213.96 L577.76,213.99 L578.63,214.02 L579.50,214.05 L580.37,214.08 L581.24,214.11 L582.11,214.14 L582.98,214.17 L583.85,214.20 L584.72,214.23 L585.59,214.26 L586.46,214.29 L587.33,214.32 L588.20,214.35 L589.07,214.38 L589.94,214.41 L590.81,214.44 L591.68,214.46 L592.55,214.49 L593.42,214.52 L594.29,214.55 L595.16,214.58 L596.03,214.60 L596.25,214.61" fill="none" stroke="#ff0000" stroke-width="1.85" stroke-linejoin="round" stroke-linecap="butt"/>
<path d="M193.18,17.00 L193.44,17.89 L193.77,19.01 L194.09,20.12 L194.42,21.22 L194.74,22.32 L195.07,23.40 L195.40,24.48 L195.72,25.55 L196.05,26.62 L196.38,27.67 L196.70,28.72 L197.03,29.77 L197.35,30.80 L197.68,31.83 L198.01,32.85 L198.33,33.86 L198.66,34.87 L198.99,35.86 L199.31,36.86 L199.64,37.84 L199.96,38.82 L200.29,39.79 L200.62,40.75 L200.94,41.71 L201.27,42.66 L201.60,43.61 L201.92,44.55 L202.25,45.48 L202.57,46.40 L202.90,47.32 L203.23,48.23 L203.55,49.14 L203.88,50.04 L204.21,50.94 L204.53,51.82 L204.86,52.71 L205.19,53.58 L205.51,54.45 L205.84,55.31 L206.16,56.17 L206.49,57.03 L206.82,57.87 L207.14,58.71 L207.47,59.55 L207.79,60.38 L208.12,61.20 L208.45,62.02 L208.77,62.83 L209.10,63.64 L209.43,64.44 L209.75,65.24 L210.08,66.03 L210.41,66.81 L210.73,67.60 L211.06,68.37 L211.38,69.14 L211.71,69.91 L212.04,70.67 L212.36,71.42 L212.69,72.17 L213.01,72.92 L213.34,73.66 L213.67,74.39 L214.10,75.36 L214.54,76.33 L214.97,77.28 L215.41,78.23 L215.84,79.17 L216.28,80.10 L216.71,81.02 L217.15,81.94 L217.58,82.84 L218.02,83.74 L218.45,84.63 L218.89,85.52 L219.32,86.39 L219.76,87.26 L220.19,88.12 L220.63,88.97 L221.06,89.82 L221.50,90.66 L221.93,91.49 L222.37,92.32 L222.80,93.13 L223.24,93.94 L223.67,94.75 L224.11,95.54 L224.54,96.33 L224.98,97.12 L225.41,97.89 L225.85,98.66 L226.28,99.43 L226.72,100.18 L227.15,100.93 L227.59,101.68 L228.02,102.42 L228.46,103.15 L228.89,103.88 L229.33,104.60 L229.76,105.31 L230.20,106.02 L230.63,106.72 L231.07,107.42 L231.50,108.11 L231.94,108.79 L232.37,109.47 L232.81,110.14 L233.35,110.98 L233.90,111.80 L234.44,112.62 L234.98,113.43 L235.53,114.23 L236.07,115.03 L236.61,115.81 L237.16,116.59 L237.70,117.36 L238.25,118.12 L238.79,118.87 L239.33,119.62 L239.88,120.36 L240.42,121.09 L240.96,121.81 L241.51,122.53 L242.05,123.24 L242.60,123.94 L243.14,124.64 L243.68,125.32 L244.23,126.01 L244.77,126.68 L245.31,127.35 L245.86,128.01 L246.40,128.67 L246.95,129.32 L247.49,129.96 L248.03,130.60 L248.58,131.23 L249.12,131.85 L249.66,132.47 L250.21,133.08 L250.75,133.69 L251.30,134.29 L251.84,134.89 L252.38,135.48 L253.04,136.18 L253.69,136.87 L254.34,137.55 L254.99,138.23 L255.64,138.90 L256.30,139.56 L256.95,140.22 L257.60,140.86 L258.25,141.50 L258.91,142.13 L259.56,142.76 L260.21,143.38 L260.87,143.99 L261.52,144.59 L262.17,145.19 L262.82,145.78 L263.48,146.37 L264.13,146.95 L264.78,147.52 L265.43,148.09 L266.09,148.65 L266.74,149.20 L267.39,149.75 L268.04,150.29 L268.69,150.83 L269.35,151.36 L270.00,151.88 L270.65,152.40 L271.31,152.92 L271.96,153.43 L272.61,153.93 L273.26,154.43 L273.91,154.92 L274.57,155.41 L275.22,155.89 L275.87,156.37 L276.52,156.84 L277.18,157.31 L277.94,157.85 L278.70,158.38 L279.46,158.91 L280.22,159.43 L280.98,159.94 L281.75,160.45 L282.51,160.95 L283.27,161.45 L284.03,161.94 L284.79,162.42 L285.55,162.90 L286.31,163.37 L287.07,163.84 L287.83,164.30 L288.60,164.76 L289.36,165.21 L290.12,165.66 L290.88,166.10 L291.64,166.54 L292.40,166.97 L293.16,167.40 L293.92,167.82 L294.69,168.23 L295.45,168.65 L296.21,169.06 L296.97,169.46 L297.73,169.86 L298.49,170.25 L299.25,170.64 L300.01,171.03 L300.78,171.41 L301.54,171.79 L302.30,172.16 L303.06,172.53 L303.82,172.89 L304.58,173.25 L305.34,173.61 L306.11,173.97 L306.87,174.32 L307.63,174.66 L308.39,175.00 L309.15,175.34 L309.91,175.68 L310.67,176.01 L311.43,176.34 L312.19,176.66 L312.96,176.98 L313.72,177.30 L314.48,177.61 L315.24,177.93 L316.00,178.23 L316.76,178.54 L317.52,178.84 L318.28,179.14 L319.05,179.44 L319.81,179.73 L320.57,180.02 L321.33,180.30 L322.09,180.59 L322.85,180.87 L323.61,181.15 L324.38,181.42 L325.14,181.70 L325.90,181.97 L326.66,182.23 L327.42,182.50 L328.18,182.76 L328.94,183.02 L329.70,183.28 L330.47,183.53 L331.23,183.78 L331.99,184.03 L332.75,184.28 L333.62,184.56 L334.49,184.84 L335.36,185.11 L336.23,185.38 L337.10,185.65 L337.97,185.91 L338.84,186.17 L339.71,186.43 L340.58,186.69 L341.45,186.94 L342.32,187.19 L343.19,187.44 L344.06,187.69 L344.93,187.93 L345.80,188.17 L346.67,188.41 L347.54,188.65 L348.41,188.88 L349.28,189.11 L350.15,189.34 L351.02,189.56 L351.89,189.79 L352.76,190.01 L353.63,190.23 L354.50,190.44 L355.37,190.66 L356.24,190.87 L357.11,191.08 L357.98,191.29 L358.85,191.50 L359.72,191.70 L360.59,191.90 L361.46,192.10 L362.33,192.30 L363.20,192.50 L364.07,192.69 L364.94,192.89 L365.81,193.08 L366.68,193.27 L367.55,193.45 L368.42,193.64 L369.29,193.82 L370.16,194.00 L371.03,194.18 L371.90,194.36 L372.77,194.54 L373.64,194.71 L374.51,194.89 L375.38,195.06 L376.25,195.23 L377.12,195.40 L377.99,195.56 L378.86,195.73 L379.73,195.89 L380.60,196.06 L381.47,196.22 L382.34,196.38 L383.21,196.53 L384.08,196.69 L384.95,196.85 L385.82,197.00 L386.69,197.15 L387.56,197.30 L388.43,197.45 L389.30,197.60 L390.17,197.75 L391.04,197.90 L391.91,198.04 L392.78,198.18 L393.65,198.33 L394.52,198.47 L395.39,198.61 L396.26,198.74 L397.13,198.88 L398.00,199.02 L398.87,199.15 L399.74,199.29 L400.61,199.42 L401.48,199.55 L402.35,199.68 L403.22,199.81 L404.09,199.94 L404.96,200.07 L405.83,200.19 L406.70,200.32 L407.57,200.44 L408.44,200.56 L409.31,200.69 L410.18,200.81 L411.05,200.93 L411.92,201.05 L412.79,201.16 L413.66,201.28 L414.53,201.40 L415.40,201.51 L416.27,201.63 L417.14,201.74 L418.01,201.85 L418.88,201.96 L419.75,202.07 L420.62,202.18 L421.49,202.29 L422.36,202.40 L423.23,202.51 L424.10,202.62 L424.97,202.72 L425.84,202.83 L426.71,202.93 L427.58,203.03 L428.45,203.14 L429.32,203.24 L430.19,203.34 L431.06,203.44 L431.93,203.54 L432.80,203.64 L433.67,203.73 L434.54,203.83 L435.41,203.93 L436.28,204.02 L437.15,204.12 L438.02,204.21 L438.89,204.30 L439.76,204.40 L440.63,204.49 L441.50,204.58 L442.37,204.67 L443.24,204.76 L444.11,204.85 L444.98,204.94 L445.85,205.03 L446.72,205.12 L447.59,205.20 L448.46,205.29 L449.33,205.37 L450.20,205.46 L451.07,205.54 L451.94,205.63 L452.81,205.71 L453.68,205.79 L454.55,205.87 L455.42,205.96 L456.29,206.04 L457.16,206.12 L458.03,206.20 L458.90,206.28 L459.77,206.35 L460.64,206.43 L461.51,206.51 L462.38,206.59 L463.25,206.66 L464.12,206.74 L464.99,206.82 L465.86,206.89 L466.73,206.96 L467.60,207.04 L468.47,207.11 L469.34,207.18 L470.21,207.26 L471.08,207.33 L471.95,207.40 L472.82,207.47 L473.69,207.54 L474.56,207.61 L475.43,207.68 L476.30,207.75 L477.17,207.82 L478.04,207.89 L478.91,207.96 L479.78,208.02 L480.65,208.09 L481.52,208.16 L482.39,208.22 L483.26,208.29 L484.13,208.35 L485.00,208.42 L485.87,208.48 L486.74,208.55 L487.61,208.61 L488.48,208.67 L489.35,208.73 L490.22,208.80 L491.09,208.86 L491.96,208.92 L492.83,208.98 L493.70,209.04 L494.57,209.10 L495.44,209.16 L496.31,209.22 L497.18,209.28 L498.05,209.34 L498.92,209.40 L499.79,209.46 L500.66,209.51 L501.53,209.57 L502.40,209.63 L503.27,209.69 L504.14,209.74 L505.01,209.80 L505.88,209.85 L506.75,209.91 L507.62,209.96 L508.49,210.02 L509.36,210.07 L510.23,210.13 L511.10,210.18 L511.97,210.23 L512.84,210.29 L513.71,210.34 L514.58,210.39 L515.45,210.44 L516.32,210.50 L517.19,210.55 L518.06,210.60 L518.93,210.65 L519.80,210.70 L520.67,210.75 L521.54,210.80 L522.41,210.85 L523.28,210.90 L524.15,210.95 L525.02,211.00 L525.89,211.05 L526.76,211.09 L527.63,211.14 L528.50,211.19 L529.37,211.24 L530.24,211.28 L531.11,211.33 L531.98,211.38 L532.85,211.42 L533.72,211.47 L534.59,211.52 L535.46,211.56 L536.33,211.61 L537.20,211.65 L538.07,211.70 L538.94,211.74 L539.81,211.79 L540.68,211.83 L541.55,211.87 L542.42,211.92 L543.29,211.96 L544.16,212.00 L545.03,212.05 L545.90,212.09 L546.77,212.13 L547.64,212.17 L548.51,212.22 L549.38,212.26 L550.25,212.30 L551.12,212.34 L551.99,212.38 L552.86,212.42 L553.73,212.46 L554.60,212.50 L555.47,212.54 L556.34,212.58 L557.21,212.62 L558.08,212.66 L558.95,212.70 L559.82,212.74 L560.69,212.78 L561.56,212.82 L562.43,212.86 L563.30,212.89 L564.17,212.93 L565.04,212.97 L565.91,213.01 L566.78,213.05 L567.65,213.08 L568.52,213.12 L569.39,213.16 L570.26,213.19 L571.13,213.23 L572.00,213.27 L572.87,213.30 L573.74,213.34 L574.61,213.37 L575.48,213.41 L576.35,213.44 L577.22,213.48 L578.09,213.51 L578.96,213.55 L579.83,213.58 L580.70,213.62 L581.57,213.65 L582.44,213.69 L583.31,213.72 L584.18,213.75 L585.05,213.79 L585.92,213.82 L586.79,213.85 L587.66,213.89 L588.53,213.92 L589.40,213.95 L590.27,213.99 L591.14,214.02 L592.01,214.05 L592.88,214.08 L593.75,214.11 L594.62,214.15 L595.49,214.18 L596.25,214.21" fill="none" stroke="#ff00ff" stroke-width="1.85" stroke-linejoin="round" stroke-linecap="butt"/>
<path d="M52.9,248.2 L54.2,288 L55.65,333.0" fill="none" stroke="#800080" stroke-width="1.85"/>
<rect x="41.5" y="0.3" width="566.0" height="349.75" fill="none" stroke="#808080" stroke-width="1"/>
<path d="M52.50,350.05 v-4.5 M52.50,0.3 v4.5 M74.25,350.05 v-2.3 M74.25,0.3 v2.3 M96.00,350.05 v-2.3 M96.00,0.3 v2.3 M117.75,350.05 v-2.3 M117.75,0.3 v2.3 M139.50,350.05 v-2.3 M139.50,0.3 v2.3 M161.25,350.05 v-4.5 M161.25,0.3 v4.5 M183.00,350.05 v-2.3 M183.00,0.3 v2.3 M204.75,350.05 v-2.3 M204.75,0.3 v2.3 M226.50,350.05 v-2.3 M226.50,0.3 v2.3 M248.25,350.05 v-2.3 M248.25,0.3 v2.3 M270.00,350.05 v-4.5 M270.00,0.3 v4.5 M291.75,350.05 v-2.3 M291.75,0.3 v2.3 M313.50,350.05 v-2.3 M313.50,0.3 v2.3 M335.25,350.05 v-2.3 M335.25,0.3 v2.3 M357.00,350.05 v-2.3 M357.00,0.3 v2.3 M378.75,350.05 v-4.5 M378.75,0.3 v4.5 M400.50,350.05 v-2.3 M400.50,0.3 v2.3 M422.25,350.05 v-2.3 M422.25,0.3 v2.3 M444.00,350.05 v-2.3 M444.00,0.3 v2.3 M465.75,350.05 v-2.3 M465.75,0.3 v2.3 M487.50,350.05 v-4.5 M487.50,0.3 v4.5 M509.25,350.05 v-2.3 M509.25,0.3 v2.3 M531.00,350.05 v-2.3 M531.00,0.3 v2.3 M552.75,350.05 v-2.3 M552.75,0.3 v2.3 M574.50,350.05 v-2.3 M574.50,0.3 v2.3 M596.25,350.05 v-4.5 M596.25,0.3 v4.5 M41.5,347.60 h2.3 M607.5,347.60 h-2.3 M41.5,337.25 h2.3 M607.5,337.25 h-2.3 M41.5,326.90 h4.3 M607.5,326.90 h-4.3 M41.5,316.55 h2.3 M607.5,316.55 h-2.3 M41.5,306.20 h2.3 M607.5,306.20 h-2.3 M41.5,295.85 h2.3 M607.5,295.85 h-2.3 M41.5,285.50 h2.3 M607.5,285.50 h-2.3 M41.5,275.15 h4.3 M607.5,275.15 h-4.3 M41.5,264.80 h2.3 M607.5,264.80 h-2.3 M41.5,254.45 h2.3 M607.5,254.45 h-2.3 M41.5,244.10 h2.3 M607.5,244.10 h-2.3 M41.5,233.75 h2.3 M607.5,233.75 h-2.3 M41.5,223.40 h4.3 M607.5,223.40 h-4.3 M41.5,213.05 h2.3 M607.5,213.05 h-2.3 M41.5,202.70 h2.3 M607.5,202.70 h-2.3 M41.5,192.35 h2.3 M607.5,192.35 h-2.3 M41.5,182.00 h2.3 M607.5,182.00 h-2.3 M41.5,171.65 h4.3 M607.5,171.65 h-4.3 M41.5,161.30 h2.3 M607.5,161.30 h-2.3 M41.5,150.95 h2.3 M607.5,150.95 h-2.3 M41.5,140.60 h2.3 M607.5,140.60 h-2.3 M41.5,130.25 h2.3 M607.5,130.25 h-2.3 M41.5,119.90 h4.3 M607.5,119.90 h-4.3 M41.5,109.55 h2.3 M607.5,109.55 h-2.3 M41.5,99.20 h2.3 M607.5,99.20 h-2.3 M41.5,88.85 h2.3 M607.5,88.85 h-2.3 M41.5,78.50 h2.3 M607.5,78.50 h-2.3 M41.5,68.15 h4.3 M607.5,68.15 h-4.3 M41.5,57.80 h2.3 M607.5,57.80 h-2.3 M41.5,47.45 h2.3 M607.5,47.45 h-2.3 M41.5,37.10 h2.3 M607.5,37.10 h-2.3 M41.5,26.75 h2.3 M607.5,26.75 h-2.3 M41.5,16.40 h4.3 M607.5,16.40 h-4.3 M41.5,6.05 h2.3 M607.5,6.05 h-2.3" fill="none" stroke="#787878" stroke-width="1"/>
<line x1="386" y1="149.5" x2="407.8" y2="149.5" stroke="#ff00ff" stroke-width="1.8"/>
<line x1="386" y1="126.8" x2="407.8" y2="126.8" stroke="#ff0000" stroke-width="1.8"/>
<line x1="386" y1="104.0" x2="407.8" y2="104.0" stroke="#0000ff" stroke-width="1.8"/>
<line x1="386" y1="81.0" x2="407.8" y2="81.0" stroke="#800080" stroke-width="1.8"/>
<line x1="386" y1="58.3" x2="407.8" y2="58.3" stroke="#00ff00" stroke-width="1.8"/>
<g style="filter:grayscale(1)">
<text x="52.95" y="363.4" font-size="10" letter-spacing="0.3" text-anchor="middle">0.5</text>
<text x="161.70" y="363.4" font-size="10" letter-spacing="0.3" text-anchor="middle">1.0</text>
<text x="270.45" y="363.4" font-size="10" letter-spacing="0.3" text-anchor="middle">1.5</text>
<text x="379.20" y="363.4" font-size="10" letter-spacing="0.3" text-anchor="middle">2.0</text>
<text x="487.95" y="363.4" font-size="10" letter-spacing="0.3" text-anchor="middle">2.5</text>
<text x="596.70" y="363.4" font-size="10" letter-spacing="0.3" text-anchor="middle">3.0</text>
<rect x="17.9" y="326.85" width="5.0" height="1.6" fill="#000"/>
<text x="37.95" y="330.50" font-size="10" letter-spacing="0.3" text-anchor="end">0.2</text>
<rect x="17.9" y="275.10" width="5.0" height="1.6" fill="#000"/>
<text x="37.95" y="278.75" font-size="10" letter-spacing="0.3" text-anchor="end">0.1</text>
<text x="38.5" y="227.00" font-size="10" letter-spacing="0.3" text-anchor="end">0.0</text>
<text x="38.5" y="175.25" font-size="10" letter-spacing="0.3" text-anchor="end">0.1</text>
<text x="38.5" y="123.50" font-size="10" letter-spacing="0.3" text-anchor="end">0.2</text>
<text x="38.5" y="71.75" font-size="10" letter-spacing="0.3" text-anchor="end">0.3</text>
<text x="38.5" y="20.00" font-size="10" letter-spacing="0.3" text-anchor="end">0.4</text>
<text x="324.8" y="380.7" font-size="10" text-anchor="middle">r</text>
<text transform="translate(9.7,175) rotate(-90)" font-size="10" text-anchor="middle">F</text>
<text x="413.85" y="62.30" font-size="11.8" textLength="73.6" lengthAdjust="spacing">g=0.1,k=0.20</text>
<text x="413.85" y="85.00" font-size="11.8" textLength="73.6" lengthAdjust="spacing">g=0.3,k=0.25</text>
<text x="413.85" y="108.00" font-size="11.8" textLength="73.6" lengthAdjust="spacing">g=0.5,k=0.30</text>
<text x="413.85" y="130.80" font-size="11.8" textLength="73.6" lengthAdjust="spacing">g=0.7,k=0.35</text>
<text x="413.85" y="153.50" font-size="11.8" textLength="73.6" lengthAdjust="spacing">g=0.9,k=0.40</text>
</g>
</svg>
</body></html>
